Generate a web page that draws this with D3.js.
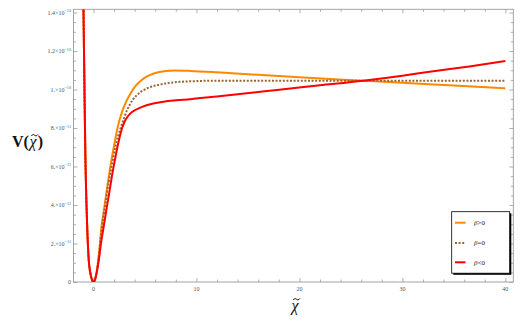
<!DOCTYPE html>
<html><head><meta charset="utf-8">
<script src="https://cdn.jsdelivr.net/npm/d3@7"></script>
<style>body{margin:0;background:#fff}svg{display:block}</style>
</head><body>
<script>
// ---- data (V in units of 1e-12) ----
const chiLeft = [-1.05, -0.97, -0.87, -0.78, -0.7, -0.61, -0.46, -0.3, -0.15, 0];
const vLeft   = [175, 142, 98, 63, 44, 28.6, 11.4, 4.5, 1.2, 0];

const chiPos = [0.15, 0.3, 0.52, 0.74, 1.0, 1.3, 1.55, 1.84, 2.1, 2.3, 2.55, 2.78, 3.1, 3.59, 4.1, 4.72, 5.7, 6.8, 8, 9.4, 12, 14, 17.8, 22, 26.2, 30, 33, 36.5, 40];
const vPos   = [1.2, 4.5, 11.4, 20.5, 29, 39, 47, 56.5, 64, 69.5, 75.5, 80, 84.2, 87.6, 89.5, 91, 92.6, 93.7, 94.4, 95, 96.4, 97.5, 99.8, 102.2, 104.6, 107.2, 109.5, 112, 114.8];

const chiZero = [0.15, 0.3, 0.5, 0.82, 1.1, 1.48, 1.71, 2.13, 2.68, 3.27, 3.8, 4.4, 5.2, 6.2, 7.3, 8.4, 10, 12, 20, 30, 40];
const vZero   = [1.3, 4.8, 12.5, 28.6, 38.5, 52, 58.5, 70.3, 80.7, 89.4, 94.5, 98, 100.6, 102.3, 103.4, 104, 104.4, 104.6, 104.6, 104.6, 104.6];

const chiNeg = [0.15, 0.3, 0.5, 0.78, 1.0, 1.3, 1.58, 1.97, 2.36, 2.78, 3.2, 3.6, 4.07, 4.6, 5.2, 6.0, 7.0, 7.8, 9.4, 12, 15, 20, 26.2, 30, 35, 40];
const vNeg   = [1.3, 5, 13, 28.6, 37, 48, 58, 70, 80.7, 88.5, 94, 98, 101.8, 104.6, 106.8, 108.6, 109.6, 109.9, 109.7, 109, 108, 106.4, 104.6, 103.5, 102.1, 100.6];

const seriesNames = ["β>0", "β=0", "β<0"];
const xTicks = [0, 10, 20, 30, 40];
const yTickVals = [0, 20, 40, 60, 80, 100, 120, 140];
const yTickMant = ["0", "2.", "4.", "6.", "8.", "1.", "1.2", "1.4"];
const yTickExp  = ["", "−11", "−11", "−11", "−11", "−10", "−10", "−10"];

// ---- layout ----
const W = 521, H = 322;
const L = 73.5, R = 513.3, T = 9.3, B = 282;
const x = d3.scaleLinear().domain([-1.94, 40.77]).range([L, R]);
const y = d3.scaleLinear().domain([0, 141.7]).range([B, T]);

const svg = d3.select("body").append("svg").attr("width", W).attr("height", H);
svg.append("defs").append("clipPath").attr("id", "clip")
  .append("rect").attr("x", L).attr("y", T).attr("width", R - L).attr("height", B - T);

const frameColor = "#9a9a9a";
const labColor = "#555";

const minorX = d3.range(-2, 41, 2).filter(v => v % 10 !== 0 && v >= -1.94);
const minorY = d3.range(0, 141, 5).filter(v => v % 20 !== 0);

function styleAxis(g) {
  g.selectAll("path").remove();
  g.selectAll("line").attr("stroke", frameColor).attr("stroke-width", 0.8);
  g.selectAll("text").remove();
}
svg.append("g").attr("transform", `translate(0,${B})`).call(d3.axisTop(x).tickValues(xTicks).tickSize(4)).call(styleAxis);
svg.append("g").attr("transform", `translate(0,${B})`).call(d3.axisTop(x).tickValues(minorX).tickSize(2.5)).call(styleAxis);
svg.append("g").attr("transform", `translate(0,${T})`).call(d3.axisBottom(x).tickValues(xTicks).tickSize(4)).call(styleAxis);
svg.append("g").attr("transform", `translate(0,${T})`).call(d3.axisBottom(x).tickValues(minorX).tickSize(2.5)).call(styleAxis);
svg.append("g").attr("transform", `translate(${L},0)`).call(d3.axisRight(y).tickValues(yTickVals).tickSize(4)).call(styleAxis);
svg.append("g").attr("transform", `translate(${L},0)`).call(d3.axisRight(y).tickValues(minorY).tickSize(2.5)).call(styleAxis);
svg.append("g").attr("transform", `translate(${R},0)`).call(d3.axisLeft(y).tickValues(yTickVals).tickSize(4)).call(styleAxis);
svg.append("g").attr("transform", `translate(${R},0)`).call(d3.axisLeft(y).tickValues(minorY).tickSize(2.5)).call(styleAxis);

svg.append("rect").attr("x", L).attr("y", T).attr("width", R - L).attr("height", B - T)
  .attr("fill", "none").attr("stroke", frameColor).attr("stroke-width", 0.9);

const font = "'Liberation Serif', 'DejaVu Serif', serif";
svg.append("g").selectAll("text").data(xTicks).join("text")
  .attr("x", d => x(d)).attr("y", B + 8.5).attr("text-anchor", "middle")
  .attr("font-family", font).attr("font-size", 6).attr("fill", labColor).text(d => d);

const yl = svg.append("g").selectAll("text").data(yTickVals).join("text")
  .attr("x", L - 2.5).attr("y", d => y(d) + 2).attr("text-anchor", "end")
  .attr("font-family", font).attr("font-size", 6).attr("fill", labColor);
yl.each(function(d, i) {
  const t = d3.select(this);
  if (yTickExp[i] === "") { t.text(yTickMant[i]); return; }
  t.append("tspan").text(yTickMant[i] + "×10");
  t.append("tspan").attr("dy", -2.5).attr("font-size", 4.2).text(yTickExp[i]);
});

// axis titles: χ with a drawn tilde above it
function chiWithTilde(g, cx, baseY, size) {
  g.append("text").attr("x", cx).attr("y", baseY).attr("text-anchor", "middle")
    .attr("font-family", font).attr("font-size", size).attr("font-style", "italic")
    .attr("fill", "#111").text("χ");
  const w = size * 0.21, ty = baseY - size * 0.74, tx = cx + size * 0.1;
  g.append("path")
    .attr("d", `M${tx - w},${ty + 0.8} C${tx - w * 0.6},${ty - 1.3} ${tx - w * 0.2},${ty - 0.5} ${tx},${ty + 0.1} S${tx + w * 0.6},${ty + 1.3} ${tx + w},${ty - 0.8}`)
    .attr("fill", "none").attr("stroke", "#111").attr("stroke-width", 1);
}
const yg = svg.append("g");
const vt = yg.append("text").attr("x", 12).attr("y", 147).attr("font-family", font)
  .attr("font-size", 16).attr("font-weight", "bold").attr("fill", "#111").text("V(");
const vw = vt.node().getComputedTextLength();
chiWithTilde(yg, 12 + vw + 4.2, 147, 16);
yg.append("text").attr("x", 12 + vw + 8.8).attr("y", 147).attr("font-family", font)
  .attr("font-size", 16).attr("font-weight", "bold").attr("fill", "#111").text(")");

chiWithTilde(svg.append("g"), 295, 311, 16);

// curves
const line = d3.line().x(d => x(d[0])).y(d => y(d[1])).curve(d3.curveMonotoneX);
function build(cs, vs) {
  return chiLeft.map((c, i) => [c, vLeft[i]]).concat(cs.map((c, i) => [c, vs[i]]));
}
const series = [
  { pts: build(chiNeg, vNeg), color: "#ff8800", dash: null },
  { pts: build(chiZero, vZero), color: "#996633", dash: "2,1.6" },
  { pts: build(chiPos, vPos), color: "#ff0000", dash: null }
];
const cg = svg.append("g").attr("clip-path", "url(#clip)");
series.forEach(s => {
  cg.append("path").attr("d", line(s.pts)).attr("fill", "none")
    .attr("stroke", s.color).attr("stroke-width", 2)
    .attr("stroke-dasharray", s.dash).attr("stroke-linejoin", "round");
});

// legend
const lx = 451.7, ly = 211.7, lw = 58, lh = 61.5;
svg.append("rect").attr("x", lx + 1.6).attr("y", ly + 1.6).attr("width", lw).attr("height", lh).attr("fill", "#000");
svg.append("rect").attr("x", lx).attr("y", ly).attr("width", lw).attr("height", lh)
  .attr("fill", "#fff").attr("stroke", "#000").attr("stroke-width", 0.8);
const legY = [222.7, 243, 262.3];
series.forEach((s, i) => {
  svg.append("line").attr("x1", 455).attr("x2", 465.5).attr("y1", legY[i]).attr("y2", legY[i])
    .attr("stroke", s.color).attr("stroke-width", 2).attr("stroke-dasharray", s.dash);
  svg.append("text").attr("x", 474).attr("y", legY[i] + 2.3)
    .attr("font-family", font).attr("font-size", 7).attr("fill", "#222")
    .call(t => {
      t.append("tspan").attr("font-style", "italic").text("β");
      t.append("tspan").text(seriesNames[i].slice(1));
    });
});
</script>
</body></html>
